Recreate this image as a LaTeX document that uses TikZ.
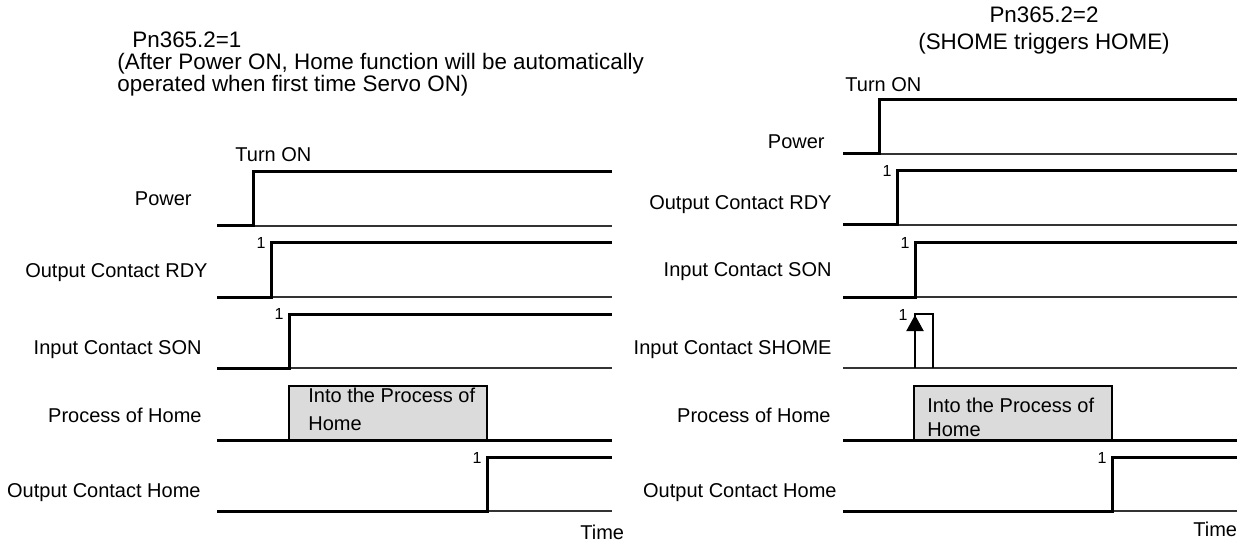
\documentclass[tikz,border=0pt]{standalone}
\usepackage{fontspec}
\setmainfont{Liberation Sans}
\usetikzlibrary{arrows.meta}
\begin{document}
\begin{tikzpicture}[x=0.5pt, y=-0.5pt,
    every node/.style={font=\fontsize{10}{12}\selectfont, inner sep=0pt},
    hiline/.style={line width=1.5pt},
    loline/.style={line width=0.8pt, draw=black!80},
    sname/.style={anchor=base east},
    txt/.style={anchor=base west},
    ttl/.style={font=\fontsize{11.2}{13}\selectfont},
    one/.style={anchor=base east, font=\fontsize{8}{9}\selectfont},
    procbox/.style={draw, line width=1pt, fill=black!14},
  ]
  \useasboundingbox (0,0) rectangle (1247,545);

  \node[txt, ttl] (t1a) at (132,48) {Pn365.2=1};
  \node[txt, ttl] (t1b) at (117,70) {(After Power ON, Home function will be automatically};
  \node[txt, ttl] (t1c) at (117,92) {operated when first time Servo ON)};
  \node[anchor=base, ttl] (t2a) at (1044,23) {Pn365.2=2};
  \node[anchor=base, ttl] (t2b) at (1044,50) {(SHOME triggers HOME)};

  \node[txt] (on1) at (235,162) {Turn ON};
  \node[txt] (on2) at (845,92) {Turn ON};

  % Pn365.2=1
  \foreach \lo/\t in {226/253, 297/271, 368/289, 511/487} {
    \draw[loline] (\t,\lo) -- (612,\lo);
    \draw[hiline] (217,\lo) -- (\t,\lo) -- (\t,\lo-54) -- (612,\lo-54);
  }
  \foreach \lo/\t/\nm in {297/271/a, 368/289/b, 511/487/c}
    \node[one] (one1\nm) at (\t-5,\lo-48) {1};

  \draw[hiline] (217,440) -- (612,440);
  \draw[procbox] (289,440) rectangle (487,386);
  \node[txt] (pr1a) at (308,402) {Into the Process of};
  \node[txt] (pr1b) at (308,430) {Home};

  \foreach \y/\x/\nm/\s in {206/192/pw1/{Power}, 278/208/rdy1/{Output Contact RDY},
      354/202/son1/{Input Contact SON}, 422/202/ph1/{Process of Home},
      497/201/hm1/{Output Contact Home}}
    \node[sname] (\nm) at (\x,\y) {\s};
  \node[txt] (tm1) at (580,539) {Time};

  % Pn365.2=2
  \foreach \lo/\t in {154/879, 225/897, 297/915, 511/1112} {
    \draw[loline] (\t,\lo) -- (1237,\lo);
    \draw[hiline] (843,\lo) -- (\t,\lo) -- (\t,\lo-54) -- (1237,\lo-54);
  }
  \foreach \lo/\t/\nm in {225/897/a, 297/915/b, 511/1112/c}
    \node[one] (one2\nm) at (\t-5,\lo-48) {1};

  \draw[loline] (843,368) -- (1237,368);
  \draw[line width=1pt] (915,368) -- (915,314) -- (933,314) -- (933,368);
  \draw[line width=1pt, -{Triangle[length=8pt, width=8.5pt]}] (915,368) -- (915,315);
  \node[one] (one2s) at (908,321) {1};

  \draw[hiline] (843,440) -- (1237,440);
  \draw[procbox] (914,440) rectangle (1112,386);
  \node[txt] (pr2a) at (927,412) {Into the Process of};
  \node[txt] (pr2b) at (927,436) {Home};

  \foreach \y/\x/\nm/\s in {149/825/pw2/{Power}, 210/832/rdy2/{Output Contact RDY},
      277/832/son2/{Input Contact SON}, 354/832/sh2/{Input Contact SHOME},
      422/831/ph2/{Process of Home}, 497/837/hm2/{Output Contact Home}}
    \node[sname] (\nm) at (\x,\y) {\s};
  \node[txt] (tm2) at (1193,536) {Time};
\end{tikzpicture}
\end{document}
